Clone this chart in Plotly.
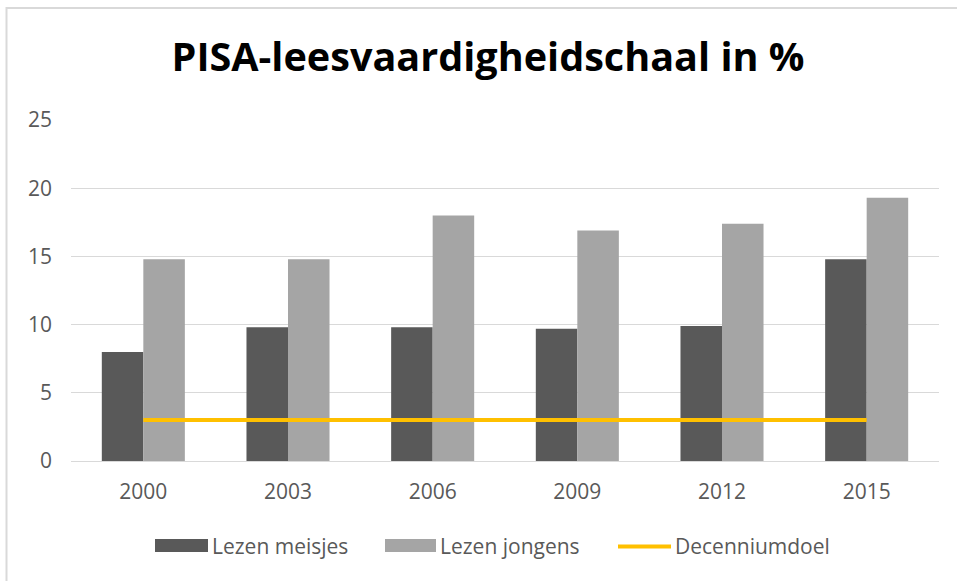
import plotly.graph_objects as go

# ---- data ----
years = ["2000", "2003", "2006", "2009", "2012", "2015"]
meisjes = [8.0, 9.8, 9.8, 9.7, 9.9, 14.8]
jongens = [14.8, 14.8, 18.0, 16.9, 17.4, 19.3]
decenniumdoel = [3, 3, 3, 3, 3, 3]
y_ticks = [0, 5, 10, 15, 20, 25]
series_names = ["Lezen meisjes", "Lezen jongens", "Decenniumdoel"]
title_text = "PISA-leesvaardigheidschaal in %"

# ---- layout geometry ----
W, H = 957, 581
L, R, T, B = 71, 18, 120, 120
pw, ph = W - L - R, H - T - B


def px(x):
    return (x - L) / pw


def py(y):
    return (H - B - y) / ph


DARK = "#595959"
LIGHT = "#A5A5A5"
GOLD = "#FFC000"
GRID = "#D9D9D9"
TXT = "#595959"
FONT = "'Open Sans', Lato, sans-serif"

fig = go.Figure()
fig.add_trace(go.Bar(x=years, y=meisjes, name=series_names[0], marker_color=DARK,
                     marker_line_width=0, showlegend=False))
fig.add_trace(go.Bar(x=years, y=jongens, name=series_names[1], marker_color=LIGHT,
                     marker_line_width=0, showlegend=False))
fig.add_trace(go.Scatter(x=years, y=decenniumdoel, name=series_names[2], mode="lines",
                         line=dict(color=GOLD, width=4), showlegend=False))

shapes = [
    # outer chart border
    dict(type="rect", xref="paper", yref="paper", x0=px(6.5), x1=px(975), y0=py(8), y1=py(600),
         line=dict(color=GRID, width=2), fillcolor="rgba(0,0,0,0)", layer="below"),
    # legend symbols
    dict(type="rect", xref="paper", yref="paper", x0=px(155), x1=px(208), y0=py(552), y1=py(539),
         line=dict(width=0), fillcolor=DARK),
    dict(type="rect", xref="paper", yref="paper", x0=px(385), x1=px(436), y0=py(552), y1=py(539),
         line=dict(width=0), fillcolor=LIGHT),
    dict(type="line", xref="paper", yref="paper", x0=px(618), x1=px(671), y0=py(546.5), y1=py(546.5),
         line=dict(color=GOLD, width=4)),
]

annotations = [
    dict(text=series_names[0], xref="paper", yref="paper", x=px(210), y=py(546), xanchor="left",
         yanchor="middle", showarrow=False, font=dict(family=FONT, size=21, color=TXT)),
    dict(text=series_names[1], xref="paper", yref="paper", x=px(438), y=py(546), xanchor="left",
         yanchor="middle", showarrow=False, font=dict(family=FONT, size=21, color=TXT)),
    dict(text=series_names[2], xref="paper", yref="paper", x=px(673), y=py(546), xanchor="left",
         yanchor="middle", showarrow=False, font=dict(family=FONT, size=21, color=TXT)),
]

fig.update_layout(
    width=W, height=H,
    margin=dict(l=L, r=R, t=T, b=B, pad=0),
    paper_bgcolor="white", plot_bgcolor="white",
    barmode="group", bargap=0.426, bargroupgap=0,
    title=dict(text="<b>" + title_text + "</b>", xref="container", x=488 / W, xanchor="center",
               y=1 - 57 / H, yref="container", yanchor="middle",
               font=dict(family=FONT, size=39.6, color="#000000")),
    shapes=shapes, annotations=annotations,
    xaxis=dict(type="category", showgrid=False, showline=True, linecolor=GRID, linewidth=1,
               ticks="", tickfont=dict(family=FONT, size=21, color=TXT), ticklabelstandoff=12),
    yaxis=dict(range=[0, 25], tickvals=y_ticks, showgrid=True, gridcolor=GRID, gridwidth=1,
               zeroline=False, showline=False, ticks="",
               tickfont=dict(family=FONT, size=21, color=TXT), ticklabelstandoff=18),
)

fig.write_html("out.html", config={"displayModeBar": False},
               post_script="document.body.style.margin='0';")
